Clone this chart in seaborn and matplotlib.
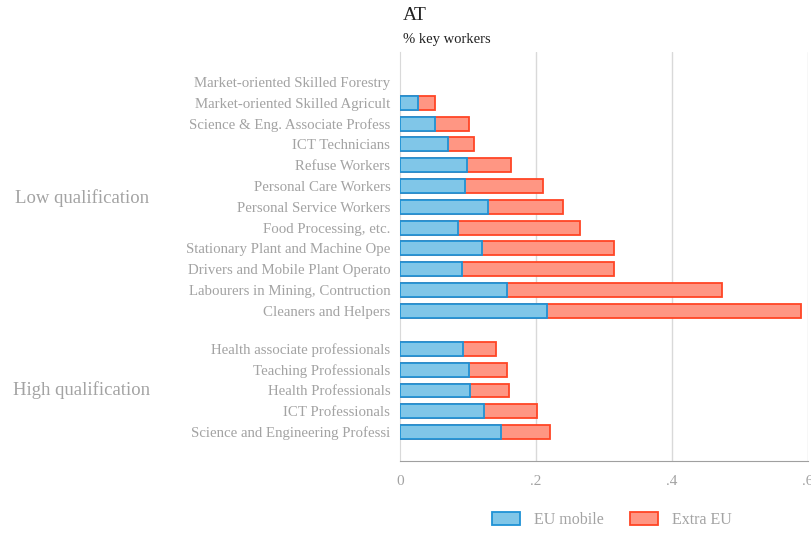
import pandas as pd
import matplotlib
matplotlib.use("Agg")
import matplotlib.pyplot as plt
import seaborn as sns
from matplotlib.patches import Patch

# data (AT, share of key workers)
low_occupations = [
    "Market-oriented Skilled Forestry",
    "Market-oriented Skilled Agricult",
    "Science & Eng. Associate Profess",
    "ICT Technicians",
    "Refuse Workers",
    "Personal Care Workers",
    "Personal Service Workers",
    "Food Processing, etc.",
    "Stationary Plant and Machine Ope",
    "Drivers and Mobile Plant Operato",
    "Labourers in Mining, Contruction",
    "Cleaners and Helpers",
]
low_eu_mobile = [0.0, 0.026, 0.052, 0.070, 0.099, 0.096, 0.130, 0.086, 0.120, 0.091, 0.158, 0.216]
low_extra_eu = [0.0, 0.025, 0.050, 0.039, 0.064, 0.115, 0.110, 0.179, 0.195, 0.224, 0.316, 0.373]

high_occupations = [
    "Health associate professionals",
    "Teaching Professionals",
    "Health Professionals",
    "ICT Professionals",
    "Science and Engineering Professi",
]
high_eu_mobile = [0.093, 0.102, 0.103, 0.123, 0.148]
high_extra_eu = [0.048, 0.056, 0.057, 0.078, 0.072]

groups = ["Low qualification", "High qualification"]

# row positions (Stata-style group gap)
low_pos = [float(i) for i in range(len(low_occupations))]
high_pos = [len(low_occupations) - 1 + 1.83 + i for i in range(len(high_occupations))]

df = pd.DataFrame({
    "occupation": low_occupations + high_occupations,
    "pos": low_pos + high_pos,
    "eu": low_eu_mobile + high_eu_mobile,
    "extra": low_extra_eu + high_extra_eu,
})
df["total"] = df["eu"] + df["extra"]

blue_fill, blue_edge = "#80c6e8", "#1f92d6"
red_fill, red_edge = "#ff9683", "#ff4525"
grey_txt = "#a3a3a3"

sns.set_style("white")
plt.rcParams["font.family"] = ["Liberation Serif", "DejaVu Serif"]

fig = plt.figure(figsize=(8.12, 5.33), dpi=100)
ax = fig.add_axes([400 / 812, 1 - 461 / 533, 408 / 812, 409 / 533])

# total bar in red first, EU mobile drawn over it -> stacked look
sns.barplot(data=df, x="total", y="pos", orient="y", native_scale=True,
            color=red_fill, edgecolor=red_edge, linewidth=1.3, width=0.67,
            saturation=1, ax=ax, zorder=3)
sns.barplot(data=df, x="eu", y="pos", orient="y", native_scale=True,
            color=blue_fill, edgecolor=blue_edge, linewidth=1.3, width=0.67,
            saturation=1, ax=ax, zorder=4)
# zero-valued rows show no bar at all
for p in ax.patches:
    if p.get_width() == 0:
        p.set_visible(False)

ax.set_xlim(0, 0.6)
ax.set_ylim(high_pos[-1] + 1.39, -1.44)
ax.set_xticks([0, 0.2, 0.4, 0.6])
ax.set_xticklabels(["0", ".2", ".4", ".6"])
ax.set_yticks(df["pos"])
ax.set_yticklabels(df["occupation"])
ax.set_xlabel("")
ax.set_ylabel("")
ax.tick_params(axis="y", length=0, pad=7, labelsize=10.7, labelcolor=grey_txt)
ax.tick_params(axis="x", length=0, pad=10, labelsize=11, labelcolor=grey_txt)

for v in [0.2, 0.4, 0.6]:
    ax.axvline(v, color="#d9d9d9", lw=1, zorder=1)
for s in ["top", "right"]:
    ax.spines[s].set_visible(False)
ax.spines["left"].set_color("#d9d9d9")
ax.spines["bottom"].set_color("#a0a0a0")

# group labels on the far left
low_mid = sum(low_pos) / len(low_pos)
high_mid = high_pos[2]
for name, y in zip(groups, [low_mid + 0.1, high_mid]):
    ax.text(-0.468, y, name, ha="center", va="center", fontsize=13.5,
            color=grey_txt, clip_on=False)

fig.text(403 / 812, 1 - 15 / 533, "AT", fontsize=14, color="#222222", va="center")
fig.text(403 / 812, 1 - 40 / 533, "% key workers", fontsize=10.5, color="#222222", va="center")

handles = [Patch(facecolor=blue_fill, edgecolor=blue_edge, linewidth=1.3),
           Patch(facecolor=red_fill, edgecolor=red_edge, linewidth=1.3)]
fig.legend(handles, ["EU mobile", "Extra EU"], loc="center", ncol=2,
           bbox_to_anchor=(612 / 812, 1 - 520 / 533), frameon=False,
           fontsize=11.5, labelcolor=grey_txt, handlelength=1.75, handleheight=0.9,
           handletextpad=0.9, columnspacing=1.6)

fig.savefig("out.png", dpi=100)
